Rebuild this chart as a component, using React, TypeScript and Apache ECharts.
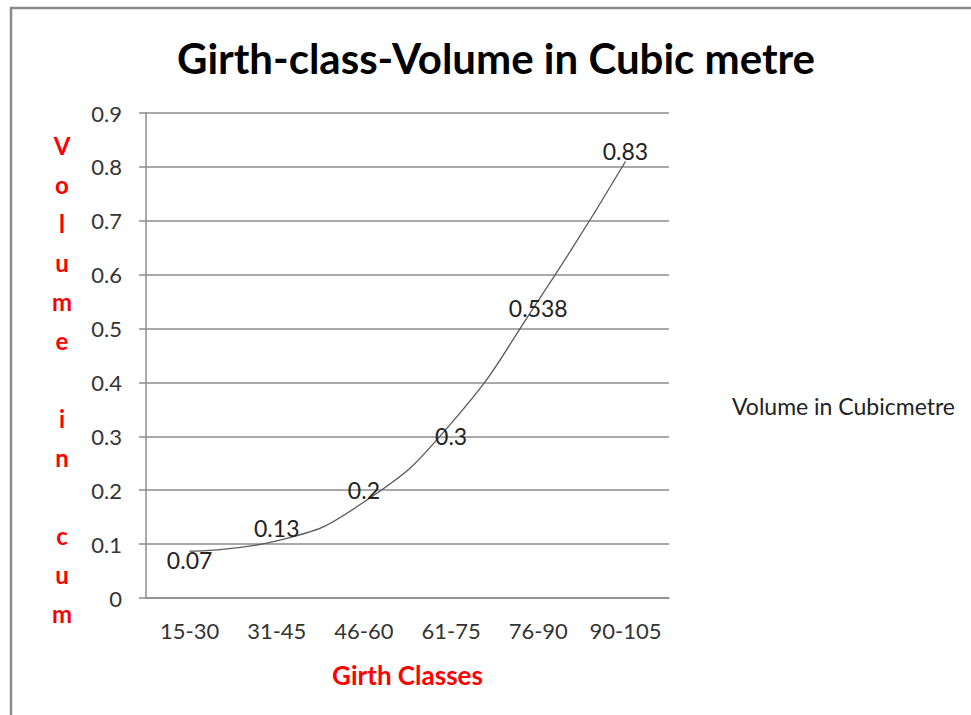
import React, { useEffect, useRef } from "react";
import * as echarts from "echarts";

const categories = ["15-30", "31-45", "46-60", "61-75", "76-90", "90-105"];
const volumeValues = [0.07, 0.13, 0.2, 0.3, 0.538, 0.83];
// smoothed trend curve
const trendValues = [0.087, 0.106, 0.178, 0.324, 0.552, 0.81];
const yTicks = { min: 0, max: 0.9, interval: 0.1 };
const yTitleLetters = ["V", "o", "l", "u", "m", "e", "", "i", "n", "", "c", "u", "m"];

const FONT = "Lato";
const GRAY = "#8c8c8c";

export default function App() {
  const ref = useRef<HTMLDivElement>(null);
  useEffect(() => {
    document.body.style.margin = "0";
    const chart = echarts.init(ref.current!, null, { renderer: "svg" });
    chart.setOption({
      animation: false,
      backgroundColor: "#ffffff",
      grid: { left: 146, right: 302, top: 113, bottom: 117, containLabel: false },
      legend: {
        data: ["Volume in Cubicmetre"],
        left: 722,
        top: 389,
        itemWidth: 0,
        itemHeight: 0,
        icon: "rect",
        textStyle: { fontFamily: FONT, fontSize: 23, color: "#222" },
      },
      xAxis: {
        type: "category",
        data: categories,
        boundaryGap: true,
        axisLine: { lineStyle: { color: GRAY, width: 1.5 } },
        axisTick: { show: false },
        axisLabel: { interval: 0, fontFamily: FONT, fontSize: 22, color: "#333", margin: 21 },
        name: "Girth Classes",
        nameLocation: "middle",
        nameGap: 64,
        nameTextStyle: { fontFamily: FONT, fontSize: 26, fontWeight: "bold", color: "#ff0000" },
      },
      yAxis: {
        type: "value",
        min: yTicks.min,
        max: yTicks.max,
        interval: yTicks.interval,
        axisLine: { show: true, lineStyle: { color: GRAY, width: 1.5 } },
        axisTick: { show: true, inside: false, length: 7, lineStyle: { color: GRAY, width: 1.5 } },
        splitLine: { show: true, lineStyle: { color: GRAY, width: 1.5 } },
        axisLabel: {
          fontFamily: FONT,
          fontSize: 22,
          color: "#333",
          margin: 24,
          formatter: (v: number) => String(Math.round(v * 10) / 10),
        },
      },
      series: [
        {
          name: "Trend",
          type: "line",
          data: trendValues,
          smooth: 0.5,
          symbol: "none",
          lineStyle: { color: "#5a5a5a", width: 1.3 },
          silent: true,
          z: 2,
        },
        {
          name: "Volume in Cubicmetre",
          type: "line",
          data: volumeValues,
          symbol: "circle",
          symbolSize: 1,
          showSymbol: true,
          itemStyle: { color: "rgba(0,0,0,0)" },
          lineStyle: { opacity: 0 },
          label: {
            show: true,
            position: "inside",
            fontFamily: FONT,
            fontSize: 23,
            color: "#222",
          },
          z: 3,
        },
      ],
      graphic: [
        {
          type: "rect",
          shape: { x: 11, y: 8, width: 1200, height: 1200 },
          style: { fill: "none", stroke: "#8a8a8a", lineWidth: 2.5 },
          silent: true,
        },
        {
          type: "text",
          x: 496,
          y: 58,
          style: {
            text: "Girth-class-Volume in Cubic metre",
            fontFamily: FONT,
            fontSize: 42,
            fontWeight: "bold",
            fill: "#000",
            textAlign: "center",
            textVerticalAlign: "middle",
          },
        },
        {
          type: "text",
          x: 62,
          y: 126,
          style: {
            text: yTitleLetters.join("\n"),
            fontFamily: FONT,
            fontSize: 24,
            fontWeight: "bold",
            fill: "#ff0000",
            lineHeight: 39,
            textAlign: "center",
            textVerticalAlign: "top",
          },
        },
      ],
    });
    return () => chart.dispose();
  }, []);
  return <div ref={ref} style={{ width: 971, height: 715 }} />;
}
